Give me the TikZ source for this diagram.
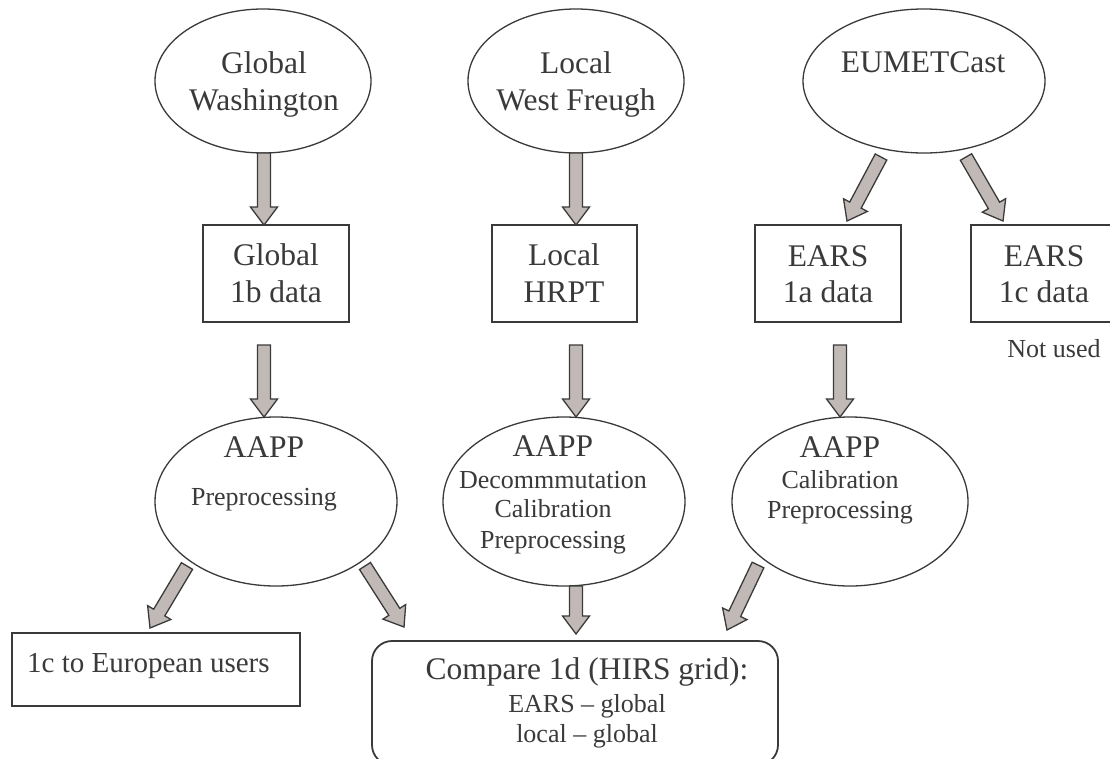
\documentclass[tikz,border=0pt]{standalone}
\usepackage{fontspec}
\setmainfont{Liberation Serif}
\usetikzlibrary{shapes.geometric,calc}
\definecolor{inkc}{HTML}{3A3A3A}
\definecolor{arrfill}{HTML}{C1B9B6}
\tikzset{
  ell/.style={draw=inkc, line width=1.3pt, ellipse, inner sep=0pt, outer sep=0pt},
  boxn/.style={draw=inkc, line width=1.8pt, rectangle, inner sep=0pt, outer sep=0pt},
  bigtxt/.style={text=inkc, inner sep=0pt, anchor=base, font=\fontsize{31.5}{36}\selectfont},
  smalltxt/.style={text=inkc, inner sep=0pt, anchor=base, font=\fontsize{26}{30}\selectfont},
  midtxt/.style={text=inkc, inner sep=0pt, anchor=base west, font=\fontsize{29}{33}\selectfont},
  blockarr/.style={draw=inkc, fill=arrfill, line width=1.3pt, line join=miter}
}
\newcommand\blockarrow[2]{%
  \path (#2) coordinate (batip) ($(#2)!18pt!(#1)$) coordinate (bahead);
  \draw[blockarr] ($(#1)!6.5pt!90:(batip)$) -- ($(bahead)!6.5pt!90:(batip)$)
    -- ($(bahead)!13.5pt!90:(batip)$) -- (batip)
    -- ($(bahead)!13.5pt!-90:(batip)$) -- ($(bahead)!6.5pt!-90:(batip)$)
    -- ($(#1)!6.5pt!-90:(batip)$) -- cycle;}
\begin{document}
\begin{tikzpicture}[x=1pt,y=-1pt]
\useasboundingbox (0,0) rectangle (1110,758);
\clip (0,0) rectangle (1110,758);
\fill[white] (0,0) rectangle (1110,758);

% top row sources
\node[ell, minimum width=216pt, minimum height=144pt] (gw) at (263,81) {};
\node[ell, minimum width=216pt, minimum height=144pt] (lw) at (576,81) {};
\node[ell, minimum width=242pt, minimum height=144pt] (eu) at (924,81) {};
\node[bigtxt] (gwa) at (264,73) {Global};
\node[bigtxt] (gwb) at (264,110) {Washington};
\node[bigtxt] (lwa) at (576,73) {Local};
\node[bigtxt] (lwb) at (576,110) {West Freugh};
\node[bigtxt] (eua) at (923,72) {EUMETCast};

% data boxes
\node[boxn, minimum width=146pt, minimum height=97pt] (gb) at (276,273.5) {};
\node[boxn, minimum width=145pt, minimum height=97pt] (lh) at (564.5,273.5) {};
\node[boxn, minimum width=146pt, minimum height=97pt] (ea) at (828,273.5) {};
\node[boxn, minimum width=146pt, minimum height=97pt] (ec) at (1044,273.5) {};
\node[bigtxt] (gba) at (276,265) {Global};
\node[bigtxt] (gbb) at (276,302) {1b data};
\node[bigtxt] (lha) at (564,265) {Local};
\node[bigtxt] (lhb) at (564,302) {HRPT};
\node[bigtxt] (eaa) at (828,266) {EARS};
\node[bigtxt] (eab) at (828,302) {1a data};
\node[bigtxt] (eca) at (1044,266) {EARS};
\node[bigtxt] (ecb) at (1044,302) {1c data};
\node[smalltxt] (nu) at (1054,357) {Not used};

% processing ellipses
\node[ell, minimum width=242pt, minimum height=169pt] (p1) at (276,501.5) {};
\node[ell, minimum width=242pt, minimum height=169pt] (p2) at (564,501.5) {};
\node[ell, minimum width=236pt, minimum height=169pt] (p3) at (850,501.5) {};
\node[bigtxt] (p1a) at (264,457) {AAPP};
\node[smalltxt] (p1b) at (264,505) {Preprocessing};
\node[bigtxt] (p2a) at (553,456) {AAPP};
\node[smalltxt] (p2b) at (553,488) {Decommmutation};
\node[smalltxt] (p2c) at (553,517) {Calibration};
\node[smalltxt] (p2d) at (553,548) {Preprocessing};
\node[bigtxt] (p3a) at (840,457) {AAPP};
\node[smalltxt] (p3b) at (840,488) {Calibration};
\node[smalltxt] (p3c) at (840,518) {Preprocessing};

% outputs
\node[boxn, minimum width=288pt, minimum height=73pt] (eo) at (156,669.5) {};
\node[midtxt] (eot) at (27,672) {1c to European users};
\node[boxn, rounded corners=20pt, minimum width=406pt, minimum height=124pt] (cm) at (575,703) {};
\node[bigtxt] (cma) at (587,679) {Compare 1d (HIRS grid):};
\node[smalltxt] (cmb) at (587,712) {EARS -- global};
\node[smalltxt] (cmc) at (587,742) {local -- global};

% arrow end points
\coordinate (a1s) at (gw.south -| 264,0);
\coordinate (a1e) at (264,225);
\coordinate (a2s) at (lw.south);
\coordinate (a2e) at (lw.south |- lh.north);
\coordinate (a3s) at (881,157);
\coordinate (a3e) at (847,221);
\coordinate (a4s) at (966,157);
\coordinate (a4e) at (1003,221);
\coordinate (a5s) at (264,345);
\coordinate (a5e) at (264,417);
\coordinate (a6s) at (576,345);
\coordinate (a6e) at (576,417);
\coordinate (a7s) at (840,345);
\coordinate (a7e) at (840,417);
\coordinate (a8s) at (187,566);
\coordinate (a8e) at (150,628);
\coordinate (a9s) at (365,566);
\coordinate (a9e) at (404,627);
\coordinate (a10s) at (576,586);
\coordinate (a10e) at (576,634);
\coordinate (a11s) at (758,565);
\coordinate (a11e) at (727,630);

\blockarrow{a1s}{a1e}
\blockarrow{a2s}{a2e}
\blockarrow{a3s}{a3e}
\blockarrow{a4s}{a4e}
\blockarrow{a5s}{a5e}
\blockarrow{a6s}{a6e}
\blockarrow{a7s}{a7e}
\blockarrow{a8s}{a8e}
\blockarrow{a9s}{a9e}
\blockarrow{a10s}{a10e}
\blockarrow{a11s}{a11e}
\end{tikzpicture}
\end{document}
